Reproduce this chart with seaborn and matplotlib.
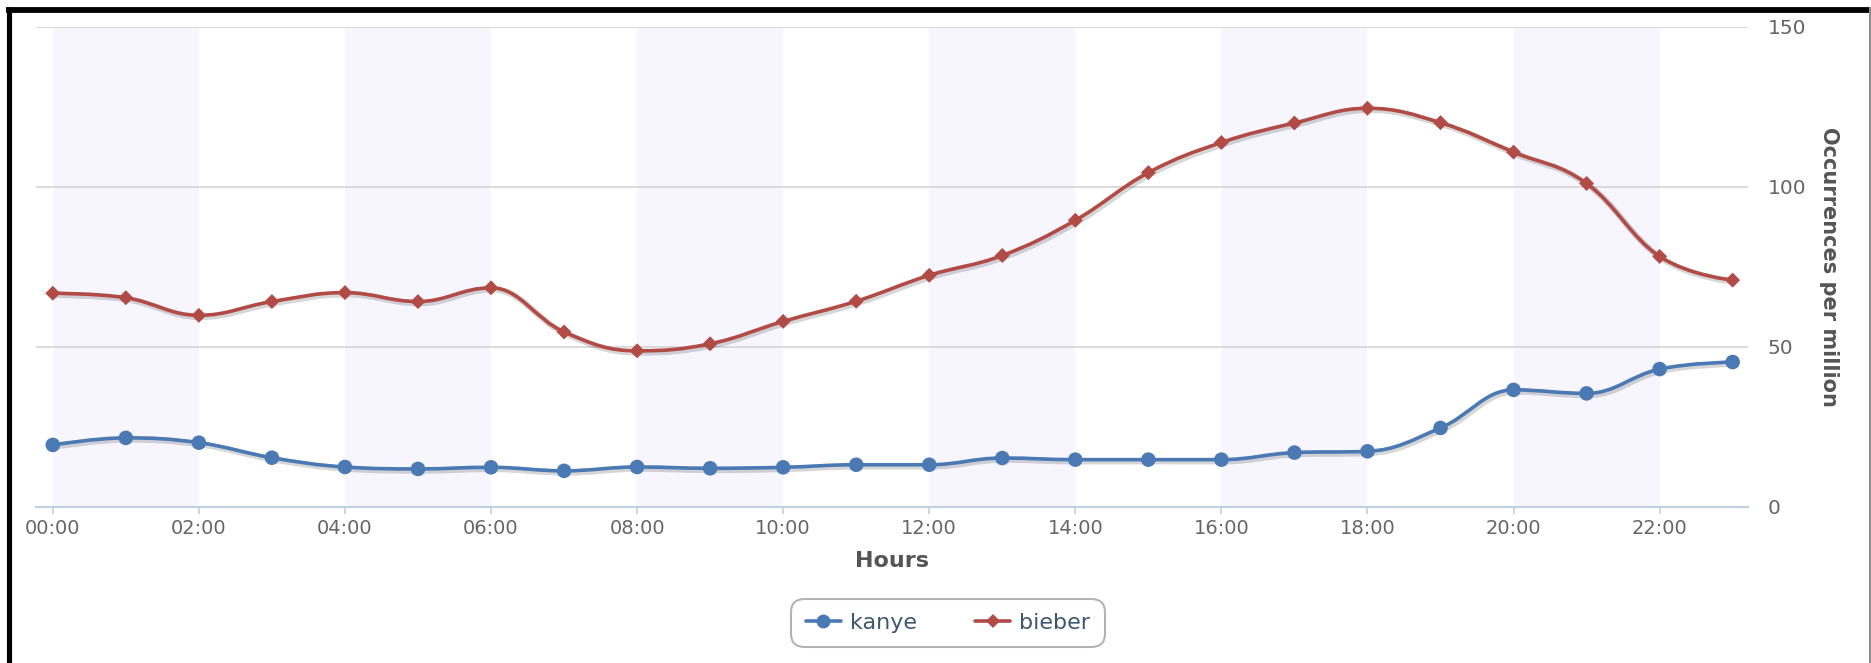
import numpy as np
import pandas as pd
import matplotlib
matplotlib.use("Agg")
import matplotlib.pyplot as plt
import seaborn as sns
from matplotlib.path import Path
from matplotlib.patches import PathPatch
from matplotlib.lines import Line2D
import matplotlib.patheffects as pe

# ---------------- data ----------------
hour_labels = ["00:00", "01:00", "02:00", "03:00", "04:00", "05:00", "06:00", "07:00",
               "08:00", "09:00", "10:00", "11:00", "12:00", "13:00", "14:00", "15:00",
               "16:00", "17:00", "18:00", "19:00", "20:00", "21:00", "22:00", "23:00"]
kanye = [19.4, 21.6, 20.1, 15.4, 12.5, 11.9, 12.4, 11.3, 12.5, 12.1, 12.4, 13.2,
         13.2, 15.3, 14.8, 14.8, 14.8, 17.0, 17.4, 24.7, 36.6, 35.5, 43.1, 45.3]
bieber = [66.8, 65.4, 59.9, 64.2, 67.0, 64.2, 68.5, 54.7, 48.8, 51.0, 58.0, 64.3,
          72.4, 78.6, 89.6, 104.5, 113.9, 120.0, 124.6, 120.1, 110.9, 101.1, 78.3, 70.9]
series_names = ["kanye", "bieber"]
band_starts = [0, 4, 8, 12, 16, 20]
band_width = 2
y_ticks = [0, 50, 100, 150]
x_title = "Hours"
y_title = "Occurrences per million"

colors = {"kanye": "#4A79B3", "bieber": "#B24B45"}
markers = {"kanye": "o", "bieber": "D"}
marker_sizes = {"kanye": 110, "bieber": 58}

# ---------------- helpers ----------------
def spline_path(xs, ys, smoothing=1.5):
    """Highcharts-style spline as cubic Bezier path through the data points."""
    denom = smoothing + 1
    n = len(xs)
    left = [None] * n
    right = [None] * n
    for i in range(1, n - 1):
        x, y = xs[i], ys[i]
        lx, ly = xs[i - 1], ys[i - 1]
        nx, ny = xs[i + 1], ys[i + 1]
        lcx = (smoothing * x + lx) / denom
        lcy = (smoothing * y + ly) / denom
        rcx = (smoothing * x + nx) / denom
        rcy = (smoothing * y + ny) / denom
        corr = ((rcy - lcy) * (rcx - x)) / (rcx - lcx) + y - rcy
        lcy += corr
        rcy += corr
        if lcy > ly and lcy > y:
            lcy = max(ly, y); rcy = 2 * y - lcy
        elif lcy < ly and lcy < y:
            lcy = min(ly, y); rcy = 2 * y - lcy
        if rcy > ny and rcy > y:
            rcy = max(ny, y); lcy = 2 * y - rcy
        elif rcy < ny and rcy < y:
            rcy = min(ny, y); lcy = 2 * y - rcy
        left[i] = (lcx, lcy)
        right[i] = (rcx, rcy)
    verts = [(xs[0], ys[0])]
    codes = [Path.MOVETO]
    for i in range(1, n):
        c1 = right[i - 1] if right[i - 1] is not None else (xs[i - 1], ys[i - 1])
        c2 = left[i] if left[i] is not None else (xs[i], ys[i])
        verts += [c1, c2, (xs[i], ys[i])]
        codes += [Path.CURVE4] * 3
    return Path(verts, codes)

# ---------------- figure ----------------
sns.set_theme(style="white")
plt.rcParams["font.family"] = ["DejaVu Sans"]

W, H = 1871, 663
fig = plt.figure(figsize=(W / 100, H / 100), dpi=100)
ax = fig.add_axes([36 / W, 1 - 507 / H, (1748 - 36) / W, (507 - 27) / H])

x_pos = list(range(len(hour_labels)))
df = pd.DataFrame({
    "hour": x_pos * 2,
    "value": kanye + bieber,
    "series": ["kanye"] * len(kanye) + ["bieber"] * len(bieber),
})

# alternating bands
for b in band_starts:
    ax.axvspan(b, b + band_width, color="#F7F5FE", zorder=0.2, lw=0)

# horizontal grid lines
for t in y_ticks[1:]:
    ax.axhline(t, color="#DADADA", lw=1.4, zorder=0.5)

# smooth lines with shadow
for name, vals in (("kanye", kanye), ("bieber", bieber)):
    p = spline_path(x_pos, vals)
    patch = PathPatch(p, facecolor="none", edgecolor=colors[name], lw=2.6,
                      zorder=3, capstyle="round", joinstyle="round",
                      path_effects=[pe.SimpleLineShadow(offset=(1.2, -1.2), shadow_color="black",
                                                        alpha=0.16, linewidth=4.5),
                                    pe.Normal()])
    ax.add_patch(patch)

# markers
sns.scatterplot(data=df, x="hour", y="value", hue="series", style="series",
                size="series", sizes=marker_sizes, size_order=series_names,
                markers=markers, palette=colors, hue_order=series_names,
                style_order=series_names, linewidth=0, legend=False,
                zorder=4, ax=ax)

ax.set_xlim(-0.23, 23.21)
ax.set_ylim(0, 150)

# axes styling
for s in ["top", "left", "right"]:
    ax.spines[s].set_visible(False)
ax.spines["bottom"].set_color("#C0D0E0")
ax.spines["bottom"].set_linewidth(1.5)
ax.spines["bottom"].set_zorder(2)

ax.set_xticks(x_pos[::2])
ax.set_xticklabels(hour_labels[::2])
ax.tick_params(axis="x", direction="out", length=5, width=1.2, color="#C0D0E0",
               labelsize=14, labelcolor="#666666", pad=4, bottom=True)

ax.yaxis.tick_right()
ax.set_yticks(y_ticks)
ax.set_yticklabels([str(t) for t in y_ticks])
ax.tick_params(axis="y", length=0, labelsize=14.5, labelcolor="#666666", pad=14)
for lbl in ax.get_yticklabels():
    lbl.set_horizontalalignment("left")

ax.set_xlabel(x_title, fontsize=16, fontweight="bold", color="#555555", va="center")
ax.xaxis.set_label_coords(0.5, -0.1125)
ax.set_ylabel(y_title, fontsize=15, fontweight="bold", color="#555555",
              rotation=270, va="center", ha="center")
ax.yaxis.set_label_position("right")
ax.yaxis.set_label_coords((1839 - 36) / (1748 - 36), 0.5)

ax.set_facecolor("white")

# legend
handles = [Line2D([0], [0], color=colors[n], lw=2.6, marker=markers[n],
                  markersize=10 if n == "kanye" else 7.5, markeredgewidth=0)
           for n in series_names]
leg = fig.legend(handles, series_names, loc="center", bbox_to_anchor=(948 / W, 1 - 623 / H),
                 ncol=2, frameon=True, fancybox=True, fontsize=16, handlelength=1.6,
                 handletextpad=0.4, columnspacing=2.6, borderpad=0.65,
                 labelcolor="#3E576F")
frame = leg.get_frame()
frame.set_edgecolor("#A0A0A0")
frame.set_linewidth(1.5)
frame.set_boxstyle("round,pad=0,rounding_size=0.6")

# outer frame (black left/top, thin grey right)
fig.add_artist(Line2D([8.5 / W, 8.5 / W], [0, 1 - 7 / H], color="black", lw=3.7,
                      transform=fig.transFigure, solid_capstyle="butt"))
fig.add_artist(Line2D([6 / W, 1869 / W], [1 - 9.5 / H, 1 - 9.5 / H], color="black", lw=4.2,
                      transform=fig.transFigure, solid_capstyle="butt"))
fig.add_artist(Line2D([1869.8 / W, 1869.8 / W], [0, 1 - 7 / H], color="#8A8A8A", lw=1.4,
                      transform=fig.transFigure, solid_capstyle="butt"))

fig.savefig("out.png", dpi=100, facecolor="white")
